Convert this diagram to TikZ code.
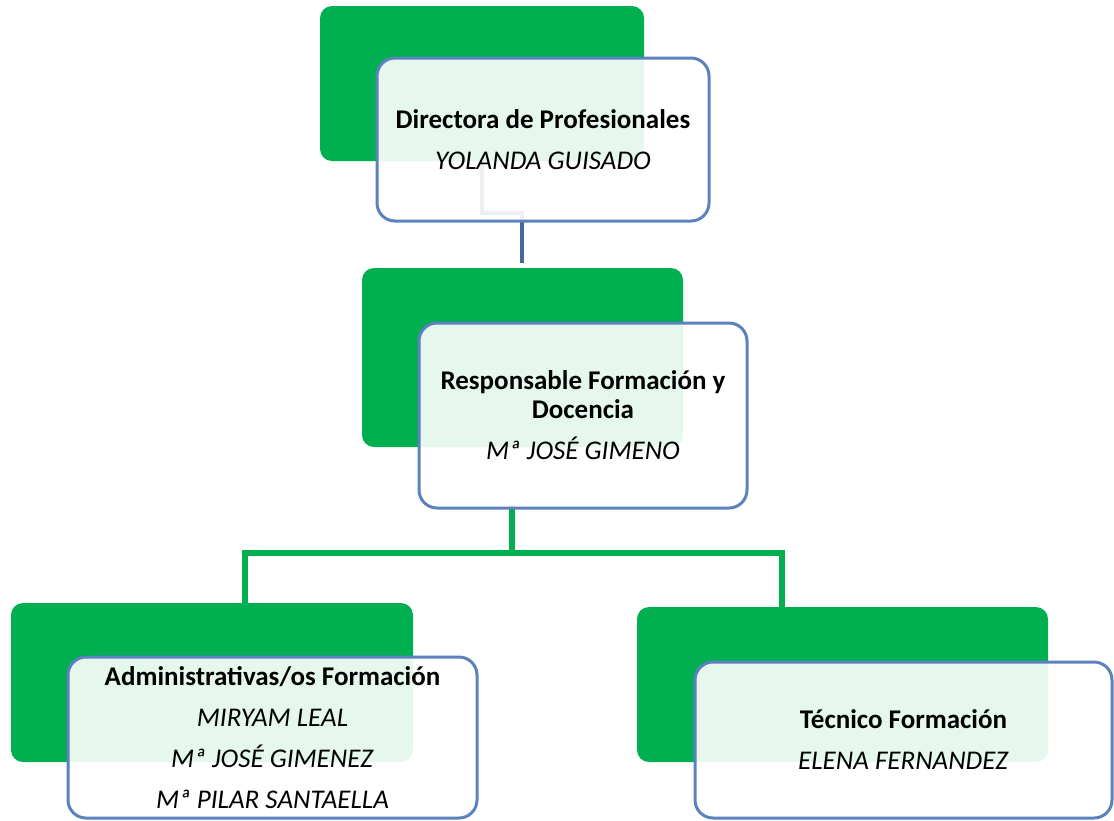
\documentclass[tikz,border=0pt]{standalone}
\usepackage{fontspec}
\setmainfont{Carlito}
\definecolor{grn}{HTML}{00B050}
\definecolor{bdr}{HTML}{5B82BE}
\definecolor{cnb}{HTML}{44699A}
\begin{document}
\begin{tikzpicture}[x=1pt,y=-1pt,
  greenbox/.style={rectangle,fill=grn,rounded corners=12pt,inner sep=0pt},
  whitebox/.style={rectangle,draw=bdr,line width=3pt,fill=white,fill opacity=0.9,text opacity=1,
    rounded corners=18pt,inner sep=0pt,align=center,font=\fontsize{27}{41}\selectfont},
  blueconn/.style={draw=cnb,line width=4pt},
  greenconn/.style={draw=grn,line width=6pt}]
\useasboundingbox (0,0) rectangle (1114,820);
% green back boxes
\node[greenbox,minimum width=324pt,minimum height=155pt] (g1) at (482,83.5) {};
\node[greenbox,minimum width=321pt,minimum height=179pt] (g2) at (522.5,357.5) {};
\node[greenbox,minimum width=402pt,minimum height=159pt] (g3) at (212,682.5) {};
\node[greenbox,minimum width=411pt,minimum height=155pt] (g4) at (842.5,684.5) {};
% connectors
\coordinate (k1) at (482,213);
\coordinate (k2) at (522,213);
\coordinate (k3) at (522,263);
\draw[blueconn] (g1.south) -- (k1) -- (k2) -- (k3);
\coordinate (j0) at (512,505);
\coordinate (j) at (512,553);
\coordinate (jl) at (245,553);
\coordinate (jr) at (782,553);
\coordinate (jl2) at (245,604);
\coordinate (jr2) at (782,608);
\draw[greenconn] (j0) -- (j);
\draw[greenconn] (jl2) -- (jl) -- (jr) -- (jr2);
% white front boxes
\node[whitebox,minimum width=332pt,minimum height=163pt] (w1) at (543,139.5)
  {\textbf{Directora de Profesionales}\\\textit{YOLANDA GUISADO}};
\node[whitebox,minimum width=328pt,minimum height=185pt] (w2) at (583,415.5)
  {\textbf{Responsable Formación y}\\[-12pt]\textbf{Docencia}\\\textit{Mª JOSÉ GIMENO}};
\node[whitebox,minimum width=409pt,minimum height=161pt] (w3) at (272.5,737.5)
  {\textbf{Administrativas/os Formación}\\\textit{MIRYAM LEAL}\\\textit{Mª JOSÉ GIMENEZ}\\\textit{Mª PILAR SANTAELLA}};
\node[whitebox,minimum width=417pt,minimum height=156pt] (w4) at (903.5,740)
  {\textbf{Técnico Formación}\\\textit{ELENA FERNANDEZ}};
\end{tikzpicture}
\end{document}
